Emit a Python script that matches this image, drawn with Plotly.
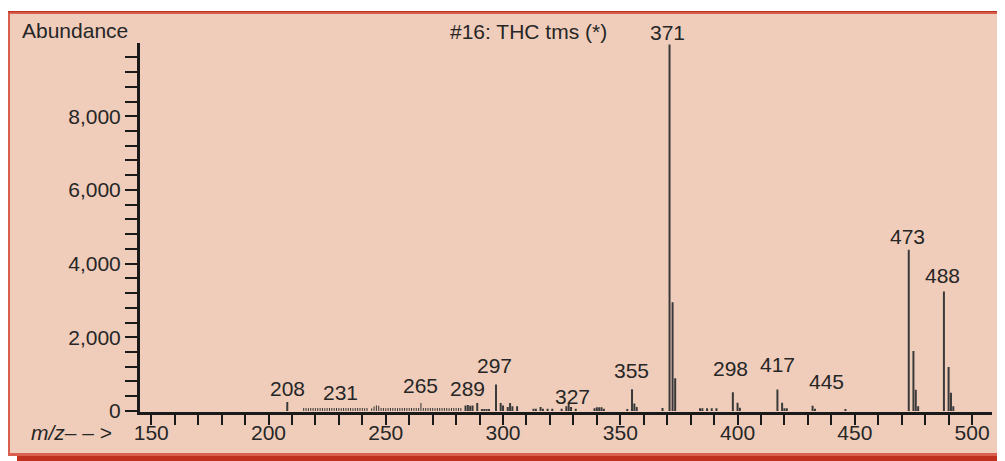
import plotly.graph_objects as go

# spectrum: m/z and abundance of each line
grass_mz = list(range(215, 283))
grass_ab = [80, 80, 75, 80, 80, 75, 80, 80, 80, 75,
            80, 80, 80, 80, 80, 80, 75, 80, 80, 80,
            80, 75, 80, 80, 80, 80, 75, 80, 0, 70,
            120, 150, 140, 80, 80, 75, 80, 80, 80, 80,
            75, 80, 80, 80, 80, 80, 80, 80, 80, 80,
            215, 80, 80, 80, 80, 80, 75, 80, 80, 80,
            80, 80, 75, 80, 80, 80, 80, 80]

peak_mz = [208, 284, 285, 286, 287, 289, 291, 292, 293, 294, 297,
           299, 300, 302, 303, 304, 306,
           313, 314, 316, 317, 319, 321,
           325, 327, 328, 329, 331,
           339, 340, 341, 342, 343,
           353, 355, 356, 357,
           368, 371, 372.3, 373.4,
           384, 385, 387, 389, 391,
           398, 400, 401,
           417, 419, 420, 421,
           432, 433, 446,
           473, 475, 476, 477,
           488, 490, 491, 492]
peak_ab = [240, 150, 160, 140, 150, 215, 55, 55, 55, 55, 720,
           215, 150, 110, 215, 125, 125,
           60, 60, 110, 60, 60, 60,
           60, 130, 215, 110, 60,
           70, 100, 100, 100, 60,
           55, 590, 200, 110,
           80, 9950, 2950, 890,
           70, 70, 70, 70, 70,
           510, 225, 90,
           580, 225, 70, 70,
           140, 60, 55,
           4380, 1630, 575, 125,
           3240, 1190, 495, 125]

label_mz = [208, 231, 265, 289, 297, 327, 355, 371, 398, 417, 446, 473, 488]
label_text = ["208", "231", "265", "289", "297", "327", "355", "371",
              "298", "417", "445", "473", "488"]
# pixel offsets of each label from the top of its line
label_dx = [0, -1, 0, -10, -2, 6, -1, -2, -2, 0, -19, -1, -1]
label_dy = [14, 16, 18, 15, 19, 10, 19, 12, 24, 25, 27, 13, 16]

title = "#16: THC tms (*)"

FONT = "Liberation Sans, Arial, Helvetica, sans-serif"
INK = "#262626"
AXIS = "#1a1a1a"
PEACH = "#F0CDBB"
RED_DARK = "#C0301F"
RED_LIGHT = "#D9604F"

# the page puts the figure 8px in from the top-left corner
OFF = 8
W, H = 1005 - OFF, 461 - OFF


def stems(xs, ys):
    sx, sy = [], []
    for x, y in zip(xs, ys):
        if y <= 0:
            continue
        sx += [x, x, None]
        sy += [0, y, None]
    return sx, sy


# screen pixel -> paper (margins are zero so paper is the whole figure)
def fx(p):
    return (p - OFF) / W


def fy(p):
    return (H - (p - OFF)) / H


fig = go.Figure()

gx, gy = stems(grass_mz, grass_ab)
fig.add_trace(go.Scatter(x=gx, y=gy, mode='lines',
                         line=dict(color="#333333", width=1),
                         hoverinfo='skip', showlegend=False))
px_, py_ = stems(peak_mz, peak_ab)
fig.add_trace(go.Scatter(x=px_, y=py_, mode='lines',
                         line=dict(color="#3a3a3a", width=2),
                         hoverinfo='skip', showlegend=False))

# look up the abundance under each label
all_ab = dict(zip(grass_mz, grass_ab))
all_ab.update(dict(zip(peak_mz, peak_ab)))

for m, t, dx, dy in zip(label_mz, label_text, label_dx, label_dy):
    fig.add_annotation(x=m, y=all_ab[m], text=t, showarrow=False,
                       xanchor='center', yanchor='middle',
                       xshift=dx, yshift=dy,
                       font=dict(size=21, color=INK, family=FONT))


def box(x0, x1, y0, y1, color):
    return dict(type='rect', xref='paper', yref='paper',
                x0=fx(x0), x1=fx(x1), y0=fy(y0), y1=fy(y1),
                fillcolor=color, line=dict(width=0), layer='above')


shapes = [
    box(0, 1010, 0, 11, 'white'),
    box(0, 17, 456, 470, 'white'),
    # red frame with its drop shadow
    box(7.3, 10, 11, 456, RED_LIGHT),
    box(7.3, 1010, 11, 12.7, RED_DARK),
    box(7.3, 1010, 12.7, 14, RED_LIGHT),
    box(7.3, 1010, 453, 456, RED_LIGHT),
    box(17, 1010, 456, 470, RED_DARK),
]

annos_text = [
    dict(text="Abundance", x=fx(20), y=fy(30), xanchor='left', yanchor='middle'),
    dict(text=title, x=fx(448), y=fy(31), xanchor='left', yanchor='middle'),
    dict(text="<i>m/z</i>– – >", x=fx(29), y=fy(432), xanchor='left', yanchor='middle'),
]
for a in annos_text:
    fig.add_annotation(xref='paper', yref='paper', showarrow=False,
                       font=dict(size=21, color=INK, family=FONT), **a)

fig.update_layout(
    width=W, height=H,
    margin=dict(l=0, r=0, t=0, b=0),
    paper_bgcolor=PEACH,
    plot_bgcolor=PEACH,
    shapes=shapes,
    font=dict(family=FONT, size=21, color=INK),
    showlegend=False,
    xaxis=dict(
        domain=[fx(140), fx(992)], automargin=False,
        range=[145.2, 508.5], showgrid=False, zeroline=False,
        showline=True, linecolor=AXIS, linewidth=3,
        tick0=150, dtick=50, ticks='outside', ticklen=10, tickwidth=2,
        tickcolor=AXIS, ticklabelstandoff=-10,
        minor=dict(tick0=150, dtick=10, ticks='outside', ticklen=10,
                   tickwidth=2, tickcolor=AXIS),
        tickfont=dict(size=21, color=INK),
    ),
    yaxis=dict(
        domain=[fy(411.5), fy(43)], automargin=False,
        range=[-15, 9990], showgrid=False, zeroline=False,
        showline=True, linecolor=AXIS, linewidth=3,
        tick0=0, dtick=2000, ticks='outside', ticklen=12, tickwidth=2,
        tickcolor=AXIS, tickformat=',',
        minor=dict(tick0=0, dtick=400, ticks='outside', ticklen=12,
                   tickwidth=2, tickcolor=AXIS),
        tickfont=dict(size=21, color=INK),
    ),
)

fig.write_html("out.html")
